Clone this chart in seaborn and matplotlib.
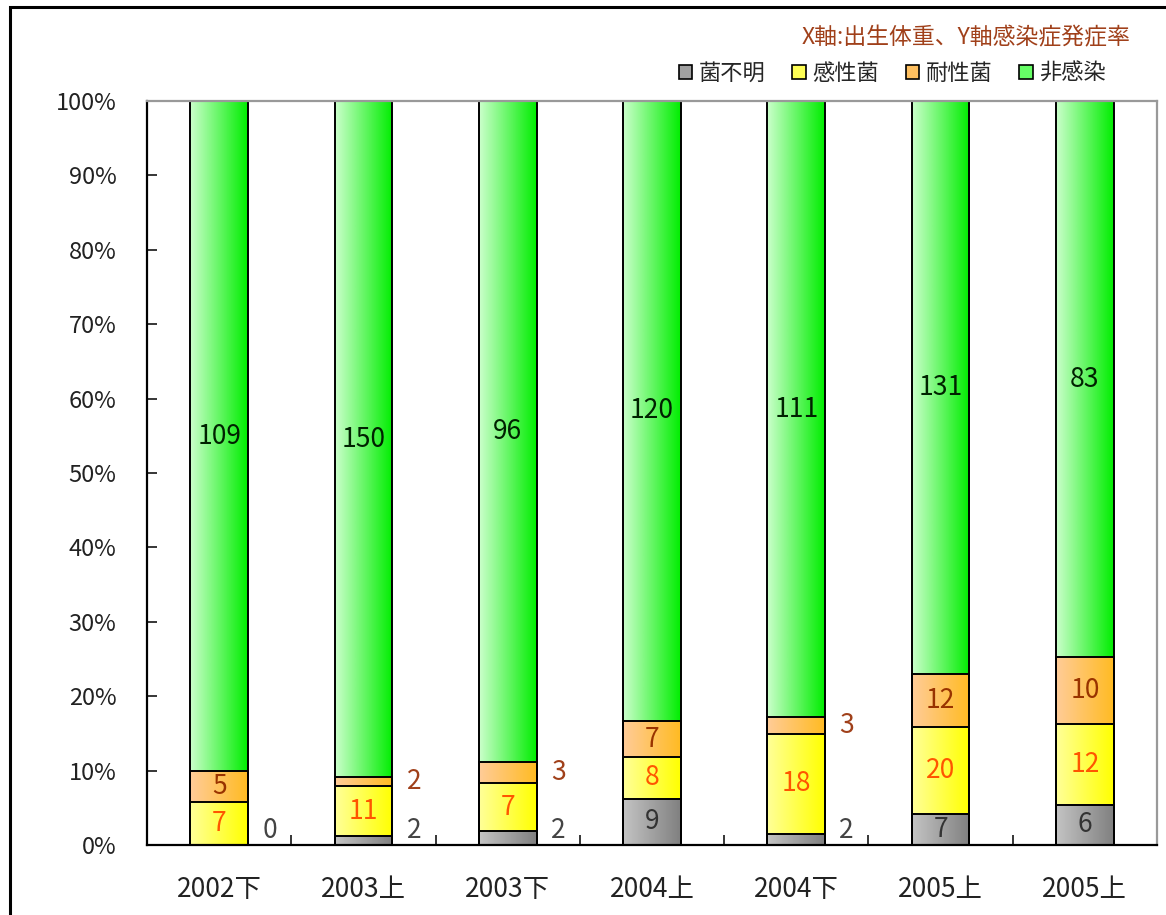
import numpy as np
import pandas as pd
import matplotlib
matplotlib.use("Agg")
import matplotlib.pyplot as plt
import seaborn as sns
from matplotlib.colors import LinearSegmentedColormap
from matplotlib.patches import Rectangle, Patch
from matplotlib.ticker import FuncFormatter, FixedLocator

# data (counts per half-year)
periods = ["2002下", "2003上", "2003下", "2004上", "2004下", "2005上", "2005上"]
unknown = [0, 2, 2, 9, 2, 7, 6]          # 菌不明
sensitive = [7, 11, 7, 8, 18, 20, 12]    # 感性菌
resistant = [5, 2, 3, 7, 3, 12, 10]      # 耐性菌
no_infection = [109, 150, 96, 120, 111, 131, 83]  # 非感染
series_names = ["菌不明", "感性菌", "耐性菌", "非感染"]
title_text = "X軸:出生体重、Y軸感染症発症率"

# styling
light = ["#c4c4c4", "#ffff99", "#ffcc99", "#ccffcc"]
dark = ["#808080", "#ffff00", "#ffbb22", "#00ee00"]
mid = ["#a0a0a0", "#ffff55", "#ffc060", "#66ff66"]
inside_text = ["#333333", "#ff5500", "#993300", "#002200"]
outside_text = ["#444444", "#ff5500", "#a0401a", "#002200"]

sns.set_theme(style="white")
plt.rcParams["font.family"] = ["Noto Sans CJK JP", "DejaVu Sans"]

counts = pd.DataFrame({
    "key": [f"c{i}" for i in range(len(periods))],
    "period": periods,
    series_names[0]: unknown,
    series_names[1]: sensitive,
    series_names[2]: resistant,
    series_names[3]: no_infection,
})
totals = counts[series_names].sum(axis=1)
pct = counts[series_names].div(totals, axis=0) * 100
cum = pct.cumsum(axis=1)
keys = list(counts["key"])

fig = plt.figure(figsize=(11.66, 9.15), dpi=100)
fig.patch.set_facecolor("white")
ax = fig.add_axes([147 / 1166, 70 / 915, 1010 / 1166, 744 / 915])

grad = np.linspace(0, 1, 256).reshape(1, -1)

# draw top layer first, lower layers over it
for layer in range(3, -1, -1):
    n_before = len(ax.patches)
    sns.barplot(x=keys, y=cum[series_names[layer]].values, order=keys, ax=ax,
                width=0.4, color=mid[layer], saturation=1,
                edgecolor="black", linewidth=1.4, errorbar=None)
    cmap = LinearSegmentedColormap.from_list(f"g{layer}", [light[layer], dark[layer]])
    for p in ax.patches[n_before:]:
        p.set_facecolor("none")
        p.set_zorder(10)
        x0, y0 = p.get_x(), p.get_y()
        w, h = p.get_width(), p.get_height()
        if h <= 0:
            continue
        ax.imshow(grad, extent=[x0, x0 + w, y0, y0 + h], aspect="auto",
                  cmap=cmap, zorder=2 + (3 - layer) * 0.5, interpolation="bilinear")

# segment labels
for i in range(len(periods)):
    bottom = 0.0
    for layer, name in enumerate(series_names):
        v = counts[name].iloc[i]
        h = pct[name].iloc[i]
        center = bottom + h / 2
        if h < 3:
            ax.text(i + 0.35, max(center, 2.0), str(v), ha="center", va="center",
                    fontsize=19, color=outside_text[layer], zorder=12)
        else:
            ax.text(i, center, str(v), ha="center", va="center",
                    fontsize=19, color=inside_text[layer], zorder=12)
        bottom += h

ax.set_xlim(-0.5, len(periods) - 0.5)
ax.set_ylim(0, 100)
ax.set_xlabel("")
ax.set_ylabel("")
ax.set_xticks(range(len(periods)))
ax.set_xticklabels(periods, fontsize=19, color="#222222")
ax.xaxis.set_minor_locator(FixedLocator(np.arange(0.5, len(periods) - 0.5, 1)))
ax.set_yticks(np.arange(0, 101, 10))
ax.yaxis.set_major_formatter(FuncFormatter(lambda v, _: f"{v:.0f}%"))
ax.tick_params(axis="y", direction="in", length=7, width=1.3, left=True,
               labelsize=17, labelcolor="#222222", pad=22)
ax.tick_params(axis="x", which="major", length=0, pad=22)
ax.tick_params(axis="x", which="minor", direction="in", length=7, width=1.3, bottom=True)

for side in ["left", "bottom"]:
    ax.spines[side].set_color("black")
    ax.spines[side].set_linewidth(1.6)
for side in ["top", "right"]:
    ax.spines[side].set_color("#999999")
    ax.spines[side].set_linewidth(1.6)
for s in ax.spines.values():
    s.set_zorder(11)

# title and legend
fig.text(1130 / 1166, 1 - 38 / 915, title_text, ha="right", va="center",
         fontsize=16.5, color="#a0401a")
handles = [Patch(facecolor=mid[k], edgecolor="black", linewidth=1.2, label=series_names[k])
           for k in range(4)]
fig.legend(handles=handles, loc="center right", bbox_to_anchor=(1126 / 1166, 1 - 73 / 915),
           ncol=4, frameon=False, fontsize=16, handlelength=0.6, handleheight=0.6,
           handletextpad=0.3, columnspacing=1.2)

# outer chart frame (left and top visible)
fig.add_artist(Rectangle((10 / 1166, -0.1), 1.5, 1 - 7 / 915 + 0.1,
                         transform=fig.transFigure, fill=False,
                         edgecolor="black", linewidth=2.2))

fig.savefig("out.png", dpi=100, facecolor="white")
